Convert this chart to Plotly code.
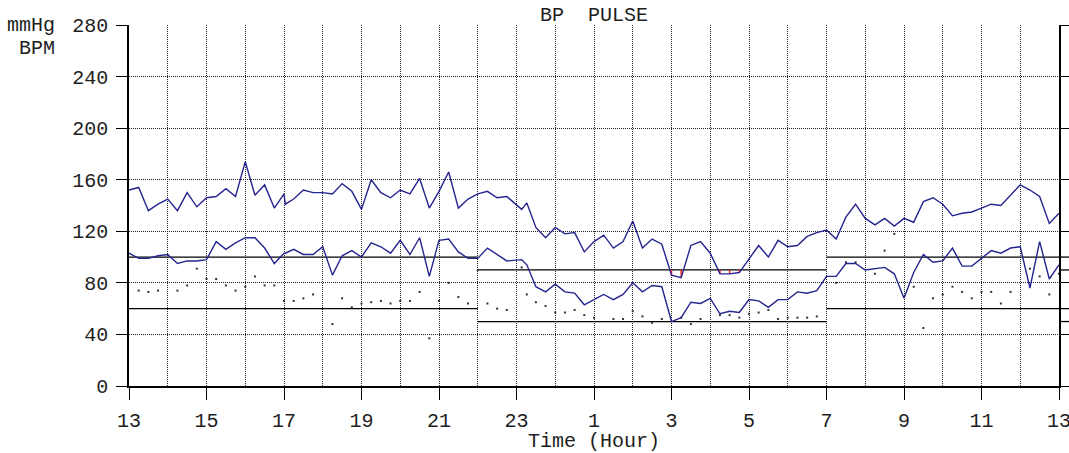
import plotly.graph_objects as go

# ---------------- data ----------------
times = ["13:00", "13:15", "13:30", "13:45", "14:00", "14:15", "14:30", "14:45",
         "15:00", "15:15", "15:30", "15:45", "16:00", "16:15", "16:30", "16:45",
         "17:00", "17:02", "17:15", "17:30", "17:45", "18:00", "18:15", "18:30", "18:45",
         "19:00", "19:15", "19:30", "19:45", "20:00", "20:15", "20:30", "20:45",
         "21:00", "21:15", "21:30", "21:45", "22:00", "22:15", "22:30", "22:45",
         "23:08", "23:16", "23:30", "23:45",
         "0:00", "0:15", "0:30", "0:45", "1:00", "1:15", "1:30", "1:45",
         "2:00", "2:15", "2:30", "2:45", "3:00", "3:15", "3:30", "3:45",
         "4:00", "4:15", "4:30", "4:45", "5:00", "5:15", "5:30", "5:45",
         "6:00", "6:15", "6:30", "6:45", "7:00", "7:15", "7:30", "7:45",
         "8:00", "8:15", "8:30", "8:45", "9:00", "9:15", "9:30", "9:45",
         "10:00", "10:15", "10:30", "10:45", "11:00", "11:15", "11:30", "11:45",
         "12:00", "12:15", "12:30", "12:45", "13:00"]

systolic = [152, 154, 136, 141, 145, 136, 150, 139,
            146, 147, 153, 147, 174, 148, 156, 138,
            149, 141, 145, 152, 150, 150, 149, 157, 151,
            137, 160, 150, 146, 152, 149, 161, 138,
            151, 166, 138, 145, 149, 151, 146, 147,
            137, 142, 123, 115,
            123, 118, 119, 104, 112, 117, 107, 112,
            128, 107, 114, 110, 86, 84, 109, 112,
            103, 87, 87, 88, 99, 109, 100, 113,
            108, 109, 116, 119, 121, 114, 131, 141,
            130, 125, 130, 124, 130, 127, 143, 146,
            141, 132, 134, 135, 138, 141, 140, 148,
            156, 152, 147, 126, 134]

diastolic = [103, 99, 99, 101, 102, 95, 97, 97,
             98, 112, 106, 111, 115, 115, 107, 95,
             103, 103, 106, 102, 102, 108, 86, 101, 105,
             100, 111, 108, 103, 113, 102, 115, 85,
             113, 114, 104, 99, 99, 107, 102, 97,
             98, 94, 77, 73,
             79, 73, 72, 63, 67, 71, 67, 71,
             80, 73, 78, 77, 50, 53, 65, 64,
             68, 56, 58, 57, 67, 66, 61, 67,
             67, 73, 72, 74, 85, 85, 95, 95,
             90, 91, 92, 87, 68, 88, 102, 96,
             97, 107, 93, 93, 99, 105, 103, 107,
             108, 76, 112, 83, 94]

pulse = [None, 74, 73, 74, None, 74, 78, 91,
         83, 83, 78, 74, 77, 85, 78, 78,
         66, None, 66, 68, 71, None, 48, 68, 61,
         64, 65, 66, 64, 66, 66, 73, 37,
         66, 80, 69, 64, 90, 64, 60, 59,
         92, 71, 65, 62,
         57, 57, 59, 55, 53, None, 52, 52,
         58, 54, 49, 52, None, 53, 48, 52,
         None, 55, 55, 53, 56, 57, 59, 52,
         53, 53, 53, 54, None, 80, 96, 96,
         None, 87, 105, 118, None, 77, 45, 68,
         71, 77, 73, 68, 73, 73, 64, 73,
         None, 91, 85, 71, 87]

# alarm limit periods (hours, 13 = start of record, 37 = 13:00 next day)
period_start = [13, 22, 31]
period_end = [22, 31, 37]
upper_limit = [100, 90, 100]
lower_limit = [60, 50, 60]
right_stub_levels = [100, 90, 60, 50]

x_tick_vals = [13, 15, 17, 19, 21, 23, 25, 27, 29, 31, 33, 35, 37]
x_tick_text = ["13", "15", "17", "19", "21", "23", "1", "3", "5", "7", "9", "11", "13"]
x_minor_vals = [14, 16, 18, 20, 22, 24, 26, 28, 30, 32, 34, 36]
y_tick_vals = [0, 40, 80, 120, 160, 200, 240, 280]

# ---------------- convert clock times to continuous hours ----------------
hours = []
prev = None
offset = 0
for t in times:
    hh, mm = t.split(":")
    h = int(hh) + int(mm) / 60.0 + offset
    if prev is not None and h < prev:
        offset += 24
        h += 24
    hours.append(h)
    prev = h

FONT = "Liberation Mono, Courier New, monospace"
TXT = "#1e1e1e"
LINE_COL = "#25258f"

fig = go.Figure()

# limit lines
lx, uy, ly = [], [], []
for s, e, u, l in zip(period_start, period_end, upper_limit, lower_limit):
    lx += [s, e, None]
    uy += [u, u, None]
    ly += [l, l, None]
fig.add_trace(go.Scatter(x=lx, y=uy, mode="lines", line=dict(color="black", width=1.3),
                         hoverinfo="skip", showlegend=False))
fig.add_trace(go.Scatter(x=lx, y=ly, mode="lines", line=dict(color="black", width=1.3),
                         hoverinfo="skip", showlegend=False))

# pulse dots
fig.add_trace(go.Scatter(x=hours, y=pulse, mode="markers",
                         marker=dict(symbol="square", size=2, color="#333333", line=dict(width=0)),
                         showlegend=False))

# red alarm marks where systolic falls below the period upper limit
rx, ry = [], []
for h, v in zip(hours, systolic):
    for s, e, u in zip(period_start, period_end, upper_limit):
        if s <= h < e and v < u:
            rx += [h, h, None]
            ry += [u, v, None]
fig.add_trace(go.Scatter(x=rx, y=ry, mode="lines", line=dict(color="#ff2020", width=1.5),
                         hoverinfo="skip", showlegend=False))

# BP lines
fig.add_trace(go.Scatter(x=hours, y=systolic, mode="lines",
                         line=dict(color=LINE_COL, width=1.4), showlegend=False))
fig.add_trace(go.Scatter(x=hours, y=diastolic, mode="lines",
                         line=dict(color=LINE_COL, width=1.4), showlegend=False))

shapes = []
for lvl in right_stub_levels:
    shapes.append(dict(type="line", xref="paper", yref="y", x0=1.0, x1=1.02, y0=lvl, y1=lvl,
                       line=dict(color="black", width=1.3)))

fig.update_layout(
    width=1069, height=453,
    margin=dict(l=129, r=10, t=25, b=67, autoexpand=False),
    paper_bgcolor="white", plot_bgcolor="white",
    font=dict(family=FONT, size=20, color=TXT),
    shapes=shapes,
    title=dict(text="BP  PULSE", x=594 / 1069, xanchor="center",
               y=1 - 14 / 453, yanchor="middle", yref="container",
               font=dict(family=FONT, size=20, color=TXT)),
    annotations=[
        dict(text="mmHg", xref="paper", yref="paper", x=(57 - 129) / 930, y=1 - 1 / 361,
             xanchor="right", yanchor="middle", showarrow=False,
             font=dict(family=FONT, size=20, color=TXT)),
        dict(text="BPM", xref="paper", yref="paper", x=(57 - 129) / 930, y=1 - 23 / 361,
             xanchor="right", yanchor="middle", showarrow=False,
             font=dict(family=FONT, size=20, color=TXT)),
        dict(text="Time (Hour)", xref="paper", yref="paper", x=0.5, y=-55 / 361,
             xanchor="center", yanchor="middle", showarrow=False,
             font=dict(family=FONT, size=20, color=TXT)),
    ],
)

GRID_DASH = "1px,1px"
fig.update_xaxes(
    range=[13, 37], tickmode="array", tickvals=x_tick_vals, ticktext=x_tick_text,
    ticks="outside", ticklen=12, tickcolor="black", tickwidth=1,
    showline=True, linecolor="black", linewidth=1.5, mirror=False,
    showgrid=True, gridcolor="#222222", gridwidth=1, griddash=GRID_DASH,
    zeroline=False, ticklabelstandoff=3, automargin=False, ticklabeloverflow="allow",
    minor=dict(tickmode="array", tickvals=x_minor_vals, showgrid=True, gridcolor="#222222",
               gridwidth=1, griddash=GRID_DASH, ticks=""),
    tickfont=dict(family=FONT, size=20, color=TXT),
)
fig.update_yaxes(
    range=[0, 280], tickmode="array", tickvals=y_tick_vals,
    ticks="outside", ticklen=11, tickcolor="black", tickwidth=1,
    showline=True, linecolor="black", linewidth=1.5, mirror="ticks",
    showgrid=True, gridcolor="#222222", gridwidth=1, griddash=GRID_DASH,
    zeroline=False, ticklabelstandoff=4, automargin=False,
    tickfont=dict(family=FONT, size=20, color=TXT),
)

fig.write_html("out.html", config={"displayModeBar": False},
               post_script="document.body.style.margin='0';document.body.style.overflow='hidden';")
